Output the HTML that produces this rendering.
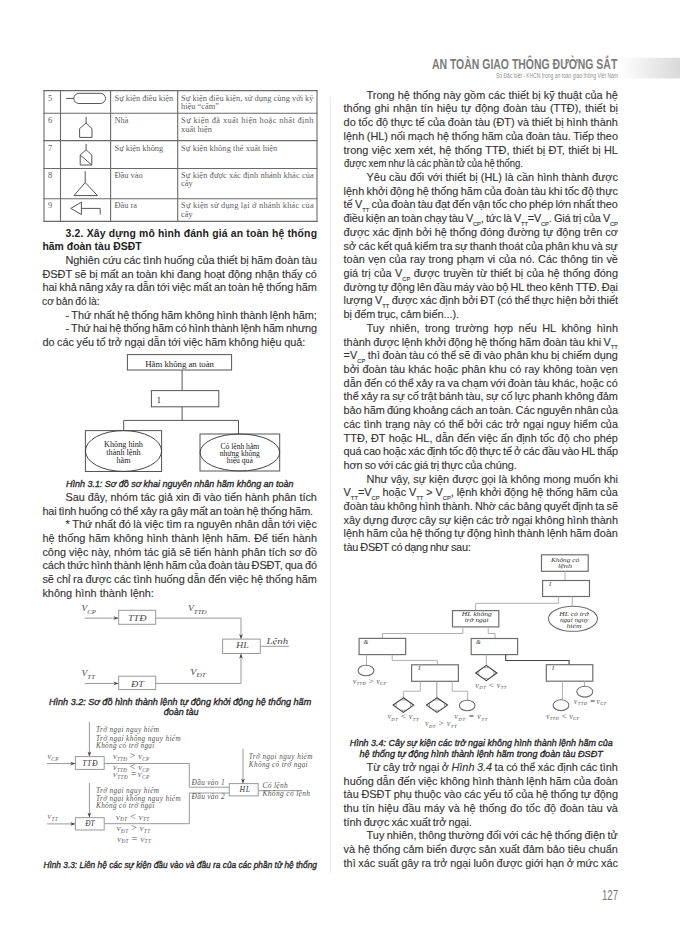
<!DOCTYPE html>
<html><head><meta charset="utf-8"><style>
html,body{margin:0;padding:0;background:#fff;}
body{width:680px;height:942px;position:relative;overflow:hidden;font-family:"Liberation Sans",sans-serif;}
.b{position:absolute;font-size:10.9px;line-height:10.9px;color:#333;white-space:nowrap;-webkit-text-stroke:0.12px #333;}
.j{display:flex;justify-content:space-between;}
svg.ov{position:absolute;left:0;top:0;}
.sb{font-size:5.8px;position:relative;top:3.5px;}
</style></head>
<body>
<svg class="ov" width="680" height="942" viewBox="0 0 680 942"><line x1="330.3" y1="97" x2="330.3" y2="873" stroke="#e6e6e6" stroke-width="1"/>
<line x1="44" y1="90.1" x2="44" y2="221.9" stroke="#6a6a6a" stroke-width="1.1"/>
<line x1="60.5" y1="90.1" x2="60.5" y2="221.9" stroke="#6a6a6a" stroke-width="1.1"/>
<line x1="110.6" y1="90.1" x2="110.6" y2="221.9" stroke="#6a6a6a" stroke-width="1.1"/>
<line x1="177.7" y1="90.1" x2="177.7" y2="221.9" stroke="#6a6a6a" stroke-width="1.1"/>
<line x1="317" y1="90.1" x2="317" y2="221.9" stroke="#6a6a6a" stroke-width="1.1"/>
<line x1="43.5" y1="90.6" x2="317.5" y2="90.6" stroke="#6a6a6a" stroke-width="1.1"/>
<line x1="43.5" y1="113.3" x2="317.5" y2="113.3" stroke="#6a6a6a" stroke-width="1.1"/>
<line x1="43.5" y1="140.6" x2="317.5" y2="140.6" stroke="#6a6a6a" stroke-width="1.1"/>
<line x1="43.5" y1="168.5" x2="317.5" y2="168.5" stroke="#6a6a6a" stroke-width="1.1"/>
<line x1="43.5" y1="198.8" x2="317.5" y2="198.8" stroke="#6a6a6a" stroke-width="1.1"/>
<line x1="43.5" y1="221.4" x2="317.5" y2="221.4" stroke="#6a6a6a" stroke-width="1.1"/>
<text x="48.1" y="100.5" font-family="Liberation Serif" font-size="8.4" font-style="normal" font-weight="normal" fill="#606060" text-anchor="start">5</text>
<text x="114.5" y="100.5" font-family="Liberation Serif" font-size="8.4" font-style="normal" font-weight="normal" fill="#606060" text-anchor="start">Sự kiện điều kiện</text>
<text x="181.1" y="100.5" font-family="Liberation Serif" font-size="8.4" font-style="normal" font-weight="normal" fill="#606060" text-anchor="start" textLength="132.40" lengthAdjust="spacing">Sự kiện điều kiện, sử dụng cùng với ký</text>
<text x="181.1" y="109.3" font-family="Liberation Serif" font-size="8.4" font-style="normal" font-weight="normal" fill="#606060" text-anchor="start">hiệu “cấm”</text>
<text x="48.1" y="122.8" font-family="Liberation Serif" font-size="8.4" font-style="normal" font-weight="normal" fill="#606060" text-anchor="start">6</text>
<text x="114.5" y="122.8" font-family="Liberation Serif" font-size="8.4" font-style="normal" font-weight="normal" fill="#606060" text-anchor="start">Nhà</text>
<text x="181.1" y="122.8" font-family="Liberation Serif" font-size="8.4" font-style="normal" font-weight="normal" fill="#606060" text-anchor="start" textLength="132.40" lengthAdjust="spacing">Sự kiện đã xuất hiện hoặc nhất định</text>
<text x="181.1" y="131.6" font-family="Liberation Serif" font-size="8.4" font-style="normal" font-weight="normal" fill="#606060" text-anchor="start">xuất hiện</text>
<text x="48.1" y="150.5" font-family="Liberation Serif" font-size="8.4" font-style="normal" font-weight="normal" fill="#606060" text-anchor="start">7</text>
<text x="114.5" y="150.5" font-family="Liberation Serif" font-size="8.4" font-style="normal" font-weight="normal" fill="#606060" text-anchor="start">Sự kiện không</text>
<text x="181.1" y="150.5" font-family="Liberation Serif" font-size="8.4" font-style="normal" font-weight="normal" fill="#606060" text-anchor="start" textLength="96.20" lengthAdjust="spacing">Sự kiện không thể xuất hiện</text>
<text x="48.1" y="177.6" font-family="Liberation Serif" font-size="8.4" font-style="normal" font-weight="normal" fill="#606060" text-anchor="start">8</text>
<text x="114.5" y="177.6" font-family="Liberation Serif" font-size="8.4" font-style="normal" font-weight="normal" fill="#606060" text-anchor="start">Đầu vào</text>
<text x="181.1" y="177.6" font-family="Liberation Serif" font-size="8.4" font-style="normal" font-weight="normal" fill="#606060" text-anchor="start" textLength="132.60" lengthAdjust="spacing">Sự kiện được xác định nhánh khác của</text>
<text x="181.1" y="186.4" font-family="Liberation Serif" font-size="8.4" font-style="normal" font-weight="normal" fill="#606060" text-anchor="start">cây</text>
<text x="48.1" y="208.3" font-family="Liberation Serif" font-size="8.4" font-style="normal" font-weight="normal" fill="#606060" text-anchor="start">9</text>
<text x="114.5" y="208.3" font-family="Liberation Serif" font-size="8.4" font-style="normal" font-weight="normal" fill="#606060" text-anchor="start">Đầu ra</text>
<text x="181.1" y="208.3" font-family="Liberation Serif" font-size="8.4" font-style="normal" font-weight="normal" fill="#606060" text-anchor="start" textLength="132.60" lengthAdjust="spacing">Sự kiện sử dụng lại ở nhánh khác của</text>
<text x="181.1" y="217.10000000000002" font-family="Liberation Serif" font-size="8.4" font-style="normal" font-weight="normal" fill="#606060" text-anchor="start">cây</text>
<line x1="66.1" y1="98.4" x2="73.8" y2="98.4" stroke="#555" stroke-width="1"/>
<rect x="73.8" y="93.3" width="31.7" height="10.2" rx="5.1" ry="5.1" stroke="#555" stroke-width="1" fill="none"/>
<line x1="86.1" y1="116.8" x2="86.1" y2="123" stroke="#555" stroke-width="1"/>
<path d="M79.6,137.4 L79.6,128.6 L86.1,123 L92,128.6 L92,137.4 Z" stroke="#555" stroke-width="1" fill="none" stroke-linejoin="miter"/>
<line x1="86.1" y1="143.9" x2="86.1" y2="149.8" stroke="#555" stroke-width="1"/>
<path d="M80.2,165 L80.2,155 L86.1,149.8 L91.8,155 L91.8,165 Z" stroke="#555" stroke-width="1" fill="none" stroke-linejoin="miter"/>
<line x1="80.2" y1="155" x2="91.8" y2="165" stroke="#555" stroke-width="1"/>
<line x1="85.2" y1="171.2" x2="85.2" y2="182.5" stroke="#555" stroke-width="1"/>
<path d="M85.2,182.5 L74,195.6 L97.5,195.6 Z" stroke="#555" stroke-width="1" fill="none" stroke-linejoin="miter"/>
<path d="M70.8,208.4 L81.4,202.1 L81.4,214.5 Z" stroke="#555" stroke-width="1" fill="none" stroke-linejoin="miter"/>
<path d="M81.4,208.4 L100.2,208.4 L100.2,214.5" stroke="#555" stroke-width="1" fill="none" stroke-linejoin="miter"/>
<rect x="127.4" y="354.6" width="104.20" height="15.40" stroke="#555" stroke-width="1" fill="none"/>
<text x="145.2" y="367.1" font-family="Liberation Serif" font-size="8.7" font-style="normal" font-weight="normal" fill="#222" text-anchor="start" textLength="68.80" lengthAdjust="spacingAndGlyphs">Hãm không an toàn</text>
<line x1="182.1" y1="370" x2="182.1" y2="390.6" stroke="#555" stroke-width="1"/>
<rect x="151.4" y="390.6" width="67.40" height="16.20" stroke="#555" stroke-width="1" fill="none"/>
<text x="156.8" y="402.9" font-family="Liberation Serif" font-size="8.4" font-style="normal" font-weight="normal" fill="#222" text-anchor="start">1</text>
<line x1="182.1" y1="406.8" x2="182.1" y2="420.4" stroke="#555" stroke-width="1"/>
<path d="M123.7,430.6 L123.7,420.4 L238.5,420.4 L238.5,434" stroke="#555" stroke-width="1" fill="none" stroke-linejoin="miter"/>
<rect x="85.4" y="430.6" width="76.20" height="40.90" stroke="#555" stroke-width="1" fill="none"/>
<ellipse cx="123.5" cy="451" rx="38.1" ry="20.4" stroke="#444" stroke-width="1" fill="none"/>
<text x="123.5" y="446.5" font-family="Liberation Serif" font-size="8.2" font-style="normal" font-weight="normal" fill="#222" text-anchor="middle">Không hình</text>
<text x="123.5" y="454.5" font-family="Liberation Serif" font-size="8.2" font-style="normal" font-weight="normal" fill="#222" text-anchor="middle">thành lệnh</text>
<text x="123.5" y="462.5" font-family="Liberation Serif" font-size="8.2" font-style="normal" font-weight="normal" fill="#222" text-anchor="middle">hãm</text>
<rect x="200" y="434" width="79.70" height="37.00" stroke="#555" stroke-width="1" fill="none"/>
<ellipse cx="239.85" cy="452.5" rx="39.8" ry="18.5" stroke="#444" stroke-width="1" fill="none"/>
<text x="239.8" y="449.0" font-family="Liberation Serif" font-size="7.6" font-style="normal" font-weight="normal" fill="#222" text-anchor="middle">Có lệnh hãm</text>
<text x="239.8" y="455.9" font-family="Liberation Serif" font-size="7.6" font-style="normal" font-weight="normal" fill="#222" text-anchor="middle">nhưng không</text>
<text x="239.8" y="462.8" font-family="Liberation Serif" font-size="7.6" font-style="normal" font-weight="normal" fill="#222" text-anchor="middle">hiệu quả</text>
<text x="81.6" y="610.9" font-family="Liberation Serif" font-size="7.2" font-style="italic" font-weight="normal" fill="#4a4a4a" text-anchor="start" textLength="14.40" lengthAdjust="spacingAndGlyphs">V<tspan font-size="5.20" dy="2.60">CP</tspan></text>
<line x1="84.7" y1="618.1" x2="118.7" y2="618.1" stroke="#999" stroke-width="1"/>
<path d="M118.50,618.10 L113.38,616.18 L114.98,618.10 L113.38,620.02 Z" fill="#444"/>
<rect x="118.7" y="610.3" width="37.00" height="14.00" stroke="#999" stroke-width="1" fill="none"/>
<text x="128" y="620.6" font-family="Liberation Serif" font-size="8.4" font-style="italic" font-weight="normal" fill="#4a4a4a" text-anchor="start" textLength="18.50" lengthAdjust="spacingAndGlyphs">TTĐ</text>
<path d="M155.7,618.1 L241,618.1 L241,639.1" stroke="#999" stroke-width="1" fill="none" stroke-linejoin="miter"/>
<path d="M241.00,639.00 L239.08,633.88 L241.00,635.48 L242.92,633.88 Z" fill="#444"/>
<text x="188" y="610.9" font-family="Liberation Serif" font-size="7.2" font-style="italic" font-weight="normal" fill="#4a4a4a" text-anchor="start" textLength="18.50" lengthAdjust="spacingAndGlyphs">V<tspan font-size="5.20" dy="2.60">TTĐ</tspan></text>
<rect x="222.6" y="639.1" width="37.70" height="14.40" stroke="#999" stroke-width="1" fill="none"/>
<text x="236" y="648.4" font-family="Liberation Serif" font-size="8.4" font-style="italic" font-weight="normal" fill="#4a4a4a" text-anchor="start" textLength="13.00" lengthAdjust="spacingAndGlyphs">HL</text>
<line x1="260.3" y1="646.3" x2="289" y2="646.3" stroke="#999" stroke-width="1"/>
<text x="266.5" y="644.3" font-family="Liberation Serif" font-size="8.4" font-style="italic" font-weight="normal" fill="#4a4a4a" text-anchor="start" textLength="21.60" lengthAdjust="spacingAndGlyphs">Lệnh</text>
<text x="81.6" y="676" font-family="Liberation Serif" font-size="7.2" font-style="italic" font-weight="normal" fill="#4a4a4a" text-anchor="start" textLength="13.40" lengthAdjust="spacingAndGlyphs">V<tspan font-size="5.20" dy="2.50">TT</tspan></text>
<line x1="84.7" y1="683.4" x2="118.7" y2="683.4" stroke="#999" stroke-width="1"/>
<path d="M118.50,683.40 L113.38,681.48 L114.98,683.40 L113.38,685.32 Z" fill="#444"/>
<rect x="118.7" y="676.2" width="37.00" height="13.40" stroke="#999" stroke-width="1" fill="none"/>
<text x="131" y="686.8" font-family="Liberation Serif" font-size="8.4" font-style="italic" font-weight="normal" fill="#4a4a4a" text-anchor="start" textLength="13.00" lengthAdjust="spacingAndGlyphs">ĐT</text>
<path d="M155.7,683.4 L241,683.4 L241,653.5" stroke="#999" stroke-width="1" fill="none" stroke-linejoin="miter"/>
<path d="M241.00,653.70 L239.08,658.82 L241.00,657.22 L242.92,658.82 Z" fill="#444"/>
<text x="190.3" y="674.6" font-family="Liberation Serif" font-size="7.2" font-style="italic" font-weight="normal" fill="#4a4a4a" text-anchor="start" textLength="15.40" lengthAdjust="spacingAndGlyphs">V<tspan font-size="5.20" dy="2.20">ĐT</tspan></text>
<line x1="89.4" y1="722" x2="89.4" y2="756.6" stroke="#999" stroke-width="1"/>
<path d="M89.40,756.50 L87.48,751.38 L89.40,752.98 L91.32,751.38 Z" fill="#444"/>
<text x="96" y="732" font-family="Liberation Serif" font-size="7.2" font-style="italic" font-weight="normal" fill="#555" text-anchor="start" textLength="63.00" lengthAdjust="spacing">Trở ngại nguy hiểm</text>
<text x="96" y="740.6" font-family="Liberation Serif" font-size="7.2" font-style="italic" font-weight="normal" fill="#555" text-anchor="start" textLength="84.60" lengthAdjust="spacing">Trở ngại không nguy hiểm</text>
<text x="96" y="747.8" font-family="Liberation Serif" font-size="7.2" font-style="italic" font-weight="normal" fill="#555" text-anchor="start" textLength="58.30" lengthAdjust="spacing">Không có trở ngại</text>
<text x="47.2" y="758.9" font-family="Liberation Serif" font-size="6.2" font-style="italic" font-weight="normal" fill="#555" text-anchor="start" textLength="11.10" lengthAdjust="spacing">V<tspan font-size="5.20" dy="1.90">CP</tspan></text>
<line x1="47" y1="763.6" x2="75.4" y2="763.6" stroke="#999" stroke-width="1"/>
<path d="M75.30,763.60 L70.18,761.68 L71.78,763.60 L70.18,765.52 Z" fill="#444"/>
<rect x="75.4" y="756.6" width="28.80" height="12.80" stroke="#999" stroke-width="1" fill="none"/>
<text x="82.2" y="765.7" font-family="Liberation Serif" font-size="7.8" font-style="italic" font-weight="normal" fill="#333" text-anchor="start" textLength="15.40" lengthAdjust="spacing">TTĐ</text>
<path d="M104.2,763.5 L189.3,763.5 L189.3,787.2 L229.3,787.2" stroke="#999" stroke-width="1" fill="none" stroke-linejoin="miter"/>
<text x="112.7" y="759" font-family="Liberation Serif" font-size="6.6" font-style="italic" font-weight="normal" fill="#555" text-anchor="start" textLength="36.40" lengthAdjust="spacing">V<tspan font-size="5.20" dy="1.60">TTĐ</tspan><tspan dy="-1.60"> </tspan><tspan font-size="10.00">&gt;</tspan><tspan font-size="6.6"></tspan> V<tspan font-size="5.20" dy="1.60">CP</tspan></text>
<text x="112.7" y="770" font-family="Liberation Serif" font-size="6.6" font-style="italic" font-weight="normal" fill="#555" text-anchor="start" textLength="36.40" lengthAdjust="spacing">V<tspan font-size="5.20" dy="1.60">TTĐ</tspan><tspan dy="-1.60"> </tspan><tspan font-size="10.00">&lt;</tspan><tspan font-size="6.6"></tspan> V<tspan font-size="5.20" dy="1.60">CP</tspan></text>
<text x="112.7" y="777.4" font-family="Liberation Serif" font-size="6.6" font-style="italic" font-weight="normal" fill="#555" text-anchor="start" textLength="36.40" lengthAdjust="spacing">V<tspan font-size="5.20" dy="1.60">TTĐ</tspan><tspan dy="-1.60"> </tspan><tspan font-size="10.00">=</tspan><tspan font-size="6.6"></tspan>V<tspan font-size="5.20" dy="1.60">CP</tspan></text>
<line x1="89.4" y1="782.8" x2="89.4" y2="817.7" stroke="#999" stroke-width="1"/>
<path d="M89.40,817.60 L87.48,812.48 L89.40,814.08 L91.32,812.48 Z" fill="#444"/>
<text x="96" y="792.8" font-family="Liberation Serif" font-size="7.2" font-style="italic" font-weight="normal" fill="#555" text-anchor="start" textLength="63.00" lengthAdjust="spacing">Trở ngại nguy hiểm</text>
<text x="96" y="801" font-family="Liberation Serif" font-size="7.2" font-style="italic" font-weight="normal" fill="#555" text-anchor="start" textLength="84.60" lengthAdjust="spacing">Trở ngại không nguy hiểm</text>
<text x="96" y="808.4" font-family="Liberation Serif" font-size="7.2" font-style="italic" font-weight="normal" fill="#555" text-anchor="start" textLength="58.30" lengthAdjust="spacing">Không có trở ngại</text>
<text x="47.2" y="819.2" font-family="Liberation Serif" font-size="6.2" font-style="italic" font-weight="normal" fill="#555" text-anchor="start" textLength="10.40" lengthAdjust="spacing">V<tspan font-size="5.20" dy="2.10">TT</tspan></text>
<line x1="47" y1="823.9" x2="75.4" y2="823.9" stroke="#999" stroke-width="1"/>
<path d="M75.30,823.90 L70.18,821.98 L71.78,823.90 L70.18,825.82 Z" fill="#444"/>
<rect x="75.4" y="817.7" width="28.80" height="12.30" stroke="#999" stroke-width="1" fill="none"/>
<text x="85.3" y="825.7" font-family="Liberation Serif" font-size="7.8" font-style="italic" font-weight="normal" fill="#333" text-anchor="start" textLength="9.30" lengthAdjust="spacingAndGlyphs">ĐT</text>
<path d="M104.2,823.7 L189.3,823.7 L189.3,793 L229.3,793" stroke="#999" stroke-width="1" fill="none" stroke-linejoin="miter"/>
<text x="115.8" y="819.5" font-family="Liberation Serif" font-size="6.6" font-style="italic" font-weight="normal" fill="#555" text-anchor="start" textLength="33.30" lengthAdjust="spacing">V<tspan font-size="5.20" dy="1.60">ĐT</tspan><tspan dy="-1.60"> </tspan><tspan font-size="10.00">&lt;</tspan><tspan font-size="6.6"></tspan> V<tspan font-size="5.20" dy="1.60">TT</tspan></text>
<text x="116.6" y="831" font-family="Liberation Serif" font-size="6.6" font-style="italic" font-weight="normal" fill="#555" text-anchor="start" textLength="33.60" lengthAdjust="spacing">V<tspan font-size="5.20" dy="1.60">ĐT</tspan><tspan dy="-1.60"> </tspan><tspan font-size="10.00">&gt;</tspan><tspan font-size="6.6"></tspan> V<tspan font-size="5.20" dy="1.60">TT</tspan></text>
<text x="117" y="841.8" font-family="Liberation Serif" font-size="6.6" font-style="italic" font-weight="normal" fill="#555" text-anchor="start" textLength="33.80" lengthAdjust="spacing">V<tspan font-size="5.20" dy="1.60">ĐT</tspan><tspan dy="-1.60"> </tspan><tspan font-size="10.00">=</tspan><tspan font-size="6.6"></tspan> V<tspan font-size="5.20" dy="1.60">TT</tspan></text>
<text x="191.6" y="785.3" font-family="Liberation Serif" font-size="7.4" font-style="italic" font-weight="normal" fill="#555" text-anchor="start" textLength="33.00" lengthAdjust="spacing">Đầu vào 1</text>
<text x="191.6" y="799.4" font-family="Liberation Serif" font-size="7.4" font-style="italic" font-weight="normal" fill="#555" text-anchor="start" textLength="33.00" lengthAdjust="spacing">Đầu vào 2</text>
<rect x="229.3" y="783.6" width="28.90" height="12.30" stroke="#999" stroke-width="1" fill="none"/>
<text x="239.4" y="791.9" font-family="Liberation Serif" font-size="7.8" font-style="italic" font-weight="normal" fill="#333" text-anchor="start" textLength="10.60" lengthAdjust="spacing">HL</text>
<line x1="243" y1="748.8" x2="243" y2="783.6" stroke="#999" stroke-width="1"/>
<path d="M243.00,783.50 L241.08,778.38 L243.00,779.98 L244.92,778.38 Z" fill="#444"/>
<text x="248.8" y="758.7" font-family="Liberation Serif" font-size="7.2" font-style="italic" font-weight="normal" fill="#555" text-anchor="start" textLength="63.60" lengthAdjust="spacing">Trở ngại nguy hiểm</text>
<text x="248.8" y="767.2" font-family="Liberation Serif" font-size="7.2" font-style="italic" font-weight="normal" fill="#555" text-anchor="start" textLength="58.80" lengthAdjust="spacing">Không có trở ngại</text>
<line x1="258.2" y1="790.7" x2="301.8" y2="790.7" stroke="#999" stroke-width="1"/>
<text x="262.5" y="788.4" font-family="Liberation Serif" font-size="7.4" font-style="italic" font-weight="normal" fill="#555" text-anchor="start" textLength="25.10" lengthAdjust="spacing">Có lệnh</text>
<text x="262.5" y="795.9" font-family="Liberation Serif" font-size="7.4" font-style="italic" font-weight="normal" fill="#555" text-anchor="start" textLength="47.50" lengthAdjust="spacing">Không có lệnh</text>
<rect x="541.5" y="554.8" width="46.70" height="16.50" stroke="#6e6e6e" stroke-width="1.2" fill="none"/>
<text x="550.9" y="562" font-family="Liberation Serif" font-size="6.4" font-style="italic" font-weight="normal" fill="#333" text-anchor="start" textLength="28.20" lengthAdjust="spacingAndGlyphs">Không có</text>
<text x="558" y="567.9" font-family="Liberation Serif" font-size="6.4" font-style="italic" font-weight="normal" fill="#333" text-anchor="start" textLength="14.00" lengthAdjust="spacingAndGlyphs">lệnh</text>
<line x1="565" y1="571.3" x2="565" y2="580.5" stroke="#b0b0b0" stroke-width="1"/>
<rect x="542.6" y="580.5" width="46.90" height="16.00" stroke="#6e6e6e" stroke-width="1.2" fill="none"/>
<text x="549" y="586" font-family="Liberation Serif" font-size="6.4" font-style="italic" font-weight="normal" fill="#333" text-anchor="start">I</text>
<path d="M558.6,596.5 L558.6,603.3 L475.6,603.3 L475.6,610.6" stroke="#b0b0b0" stroke-width="1" fill="none" stroke-linejoin="miter"/>
<line x1="572.2" y1="596.5" x2="572.2" y2="606.3" stroke="#b0b0b0" stroke-width="1"/>
<ellipse cx="573" cy="618.8" rx="24.5" ry="12.5" stroke="#6e6e6e" stroke-width="1.1" fill="none"/>
<text x="559.3" y="616" font-family="Liberation Serif" font-size="6.4" font-style="italic" font-weight="normal" fill="#333" text-anchor="start" textLength="29.40" lengthAdjust="spacingAndGlyphs">HL có trở</text>
<text x="559.9" y="622" font-family="Liberation Serif" font-size="6.4" font-style="italic" font-weight="normal" fill="#333" text-anchor="start" textLength="28.60" lengthAdjust="spacingAndGlyphs">ngại nguy</text>
<text x="566.5" y="628" font-family="Liberation Serif" font-size="6.4" font-style="italic" font-weight="normal" fill="#333" text-anchor="start" textLength="15.00" lengthAdjust="spacingAndGlyphs">hiểm</text>
<rect x="452.5" y="610.6" width="46.30" height="16.30" stroke="#6e6e6e" stroke-width="1.2" fill="none"/>
<text x="461.8" y="615.9" font-family="Liberation Serif" font-size="6.4" font-style="italic" font-weight="normal" fill="#333" text-anchor="start" textLength="30.00" lengthAdjust="spacingAndGlyphs">HL không</text>
<text x="464.7" y="622" font-family="Liberation Serif" font-size="6.4" font-style="italic" font-weight="normal" fill="#333" text-anchor="start" textLength="23.80" lengthAdjust="spacingAndGlyphs">trở ngại</text>
<path d="M462.8,626.9 L462.8,633.5 L382.4,633.5 L382.4,638.4" stroke="#b0b0b0" stroke-width="1" fill="none" stroke-linejoin="miter"/>
<path d="M488.2,626.9 L488.2,633.5 L495.1,633.5 L495.1,638.5" stroke="#b0b0b0" stroke-width="1" fill="none" stroke-linejoin="miter"/>
<rect x="359.1" y="638.4" width="46.60" height="16.20" stroke="#6e6e6e" stroke-width="1.2" fill="none"/>
<text x="363.5" y="643.8" font-family="Liberation Serif" font-size="6.2" font-style="italic" font-weight="normal" fill="#333" text-anchor="start">&amp;</text>
<line x1="366.5" y1="654.6" x2="366.5" y2="665.4" stroke="#b0b0b0" stroke-width="1"/>
<ellipse cx="366" cy="670.5" rx="7.9" ry="5.2" stroke="#6e6e6e" stroke-width="1.1" fill="none"/>
<text x="352.8" y="684" font-family="Liberation Serif" font-size="5.6" font-style="italic" font-weight="normal" fill="#444" text-anchor="start" textLength="33.50" lengthAdjust="spacing">V<tspan font-size="4.60" dy="1.40">TTĐ</tspan><tspan dy="-1.40"> </tspan><tspan font-size="9.00">&gt;</tspan><tspan font-size="5.6"></tspan> V<tspan font-size="4.60" dy="1.40">CP</tspan></text>
<path d="M392.2,654.6 L392.2,660.4 L437.4,660.4 L437.4,664.8" stroke="#b0b0b0" stroke-width="1" fill="none" stroke-linejoin="miter"/>
<rect x="471.2" y="638.5" width="46.40" height="16.10" stroke="#6e6e6e" stroke-width="1.2" fill="none"/>
<text x="476" y="643.8" font-family="Liberation Serif" font-size="6.2" font-style="italic" font-weight="normal" fill="#333" text-anchor="start">&amp;</text>
<line x1="486.3" y1="654.6" x2="486.3" y2="665.4" stroke="#b0b0b0" stroke-width="1"/>
<path d="M486.3,665.4 L496.90000000000003,673 L486.3,680.6 L475.7,673 Z" stroke="#3a3a3a" stroke-width="1.1" fill="none" stroke-linejoin="miter"/>
<line x1="478.7" y1="670.8490566037735" x2="478.7" y2="675.1509433962265" stroke="#777" stroke-width="0.7"/>
<line x1="493.90000000000003" y1="670.8490566037735" x2="493.90000000000003" y2="675.1509433962265" stroke="#777" stroke-width="0.7"/>
<line x1="483.2315789473684" y1="667.6" x2="489.3684210526316" y2="667.6" stroke="#777" stroke-width="0.7"/>
<line x1="483.2315789473684" y1="678.4" x2="489.3684210526316" y2="678.4" stroke="#777" stroke-width="0.7"/>
<text x="475.3" y="687.5" font-family="Liberation Serif" font-size="5.6" font-style="italic" font-weight="normal" fill="#444" text-anchor="start" textLength="31.10" lengthAdjust="spacing">V<tspan font-size="4.60" dy="1.40">ĐT</tspan><tspan dy="-1.40"> </tspan><tspan font-size="9.00">&lt;</tspan><tspan font-size="5.6"></tspan> V<tspan font-size="4.60" dy="1.40">TT</tspan></text>
<path d="M505.7,654.6 L505.7,660.5 L569.1,660.5 L569.1,664.7" stroke="#444" stroke-width="1.1" fill="none" stroke-linejoin="miter"/>
<rect x="411.6" y="664.8" width="46.80" height="16.50" stroke="#6e6e6e" stroke-width="1.2" fill="none"/>
<text x="418.2" y="670" font-family="Liberation Serif" font-size="6.4" font-style="italic" font-weight="normal" fill="#333" text-anchor="start">I</text>
<path d="M420.3,681.3 L420.3,691.2 L403.4,691.2 L403.4,697.8" stroke="#b0b0b0" stroke-width="1" fill="none" stroke-linejoin="miter"/>
<line x1="436.8" y1="681.3" x2="436.8" y2="697.8" stroke="#999" stroke-width="1"/>
<path d="M452.2,681.3 L452.2,691.2 L467.7,691.2 L467.7,700.4" stroke="#b0b0b0" stroke-width="1" fill="none" stroke-linejoin="miter"/>
<path d="M403.4,697.8000000000001 L413.7,705.1 L403.4,712.4 L393.09999999999997,705.1 Z" stroke="#3a3a3a" stroke-width="1.1" fill="none" stroke-linejoin="miter"/>
<line x1="396.09999999999997" y1="702.973786407767" x2="396.09999999999997" y2="707.2262135922331" stroke="#777" stroke-width="0.7"/>
<line x1="410.7" y1="702.973786407767" x2="410.7" y2="707.2262135922331" stroke="#777" stroke-width="0.7"/>
<line x1="400.29589041095886" y1="700.0000000000001" x2="406.5041095890411" y2="700.0000000000001" stroke="#777" stroke-width="0.7"/>
<line x1="400.29589041095886" y1="710.1999999999999" x2="406.5041095890411" y2="710.1999999999999" stroke="#777" stroke-width="0.7"/>
<path d="M437,697.8000000000001 L447.5,705.1 L437,712.4 L426.5,705.1 Z" stroke="#3a3a3a" stroke-width="1.1" fill="none" stroke-linejoin="miter"/>
<line x1="429.5" y1="703.0142857142857" x2="429.5" y2="707.1857142857143" stroke="#777" stroke-width="0.7"/>
<line x1="444.5" y1="703.0142857142857" x2="444.5" y2="707.1857142857143" stroke="#777" stroke-width="0.7"/>
<line x1="433.83561643835617" y1="700.0000000000001" x2="440.16438356164383" y2="700.0000000000001" stroke="#777" stroke-width="0.7"/>
<line x1="433.83561643835617" y1="710.1999999999999" x2="440.16438356164383" y2="710.1999999999999" stroke="#777" stroke-width="0.7"/>
<ellipse cx="467.2" cy="705.5" rx="7.8" ry="5.2" stroke="#6e6e6e" stroke-width="1.1" fill="none"/>
<text x="387.4" y="719.1" font-family="Liberation Serif" font-size="5.6" font-style="italic" font-weight="normal" fill="#444" text-anchor="start" textLength="31.10" lengthAdjust="spacing">V<tspan font-size="4.60" dy="1.40">ĐT</tspan><tspan dy="-1.40"> </tspan><tspan font-size="9.00">&lt;</tspan><tspan font-size="5.6"></tspan> V<tspan font-size="4.60" dy="1.40">TT</tspan></text>
<text x="424.9" y="726.2" font-family="Liberation Serif" font-size="5.6" font-style="italic" font-weight="normal" fill="#444" text-anchor="start" textLength="31.60" lengthAdjust="spacing">V<tspan font-size="4.60" dy="1.40">ĐT</tspan><tspan dy="-1.40"> </tspan><tspan font-size="9.00">&gt;</tspan><tspan font-size="5.6"></tspan> V<tspan font-size="4.60" dy="1.40">TT</tspan></text>
<text x="454.3" y="719.1" font-family="Liberation Serif" font-size="5.6" font-style="italic" font-weight="normal" fill="#444" text-anchor="start" textLength="33.00" lengthAdjust="spacing">V<tspan font-size="4.60" dy="1.40">ĐT</tspan><tspan dy="-1.40"> </tspan><tspan font-size="9.00">=</tspan><tspan font-size="5.6"></tspan> V<tspan font-size="4.60" dy="1.40">TT</tspan></text>
<rect x="546.3" y="664.7" width="46.50" height="16.50" stroke="#6e6e6e" stroke-width="1.2" fill="none"/>
<text x="552" y="670" font-family="Liberation Serif" font-size="6.4" font-style="italic" font-weight="normal" fill="#333" text-anchor="start">I</text>
<line x1="562.4" y1="681.2" x2="562.4" y2="699.7" stroke="#b0b0b0" stroke-width="1"/>
<ellipse cx="561" cy="705.2" rx="7.9" ry="5.4" stroke="#6e6e6e" stroke-width="1.1" fill="none"/>
<line x1="584.6" y1="681.2" x2="584.6" y2="686.3" stroke="#b0b0b0" stroke-width="1"/>
<ellipse cx="584.8" cy="691.7" rx="8" ry="5.4" stroke="#6e6e6e" stroke-width="1.1" fill="none"/>
<text x="573.7" y="703.8" font-family="Liberation Serif" font-size="5.6" font-style="italic" font-weight="normal" fill="#444" text-anchor="start" textLength="32.90" lengthAdjust="spacing">V<tspan font-size="4.60" dy="1.40">TTĐ</tspan><tspan dy="-1.40"> </tspan><tspan font-size="9.00">=</tspan><tspan font-size="5.6"></tspan>V<tspan font-size="4.60" dy="1.40">CP</tspan></text>
<text x="545.9" y="718.6" font-family="Liberation Serif" font-size="5.6" font-style="italic" font-weight="normal" fill="#444" text-anchor="start" textLength="33.30" lengthAdjust="spacing">V<tspan font-size="4.60" dy="1.40">TTĐ</tspan><tspan dy="-1.40"> </tspan><tspan font-size="9.00">&lt;</tspan><tspan font-size="5.6"></tspan> V<tspan font-size="4.60" dy="1.40">CP</tspan></text>
<defs><linearGradient id="g1" x1="0" x2="1" y1="0" y2="0"><stop offset="0" stop-color="#fff"/><stop offset="1" stop-color="#d9d9d9"/></linearGradient></defs>
<rect x="619" y="57.7" width="61" height="20.8" fill="url(#g1)"/>
<text x="431.9" y="68.5" font-family="Liberation Sans" font-size="15.4" font-style="normal" font-weight="bold" fill="#7c7c7c" text-anchor="start" textLength="185.40" lengthAdjust="spacingAndGlyphs">AN TOÀN GIAO THÔNG ĐƯỜNG SẮT</text>
<text x="496" y="78.2" font-family="Liberation Sans" font-size="7.2" font-style="normal" font-weight="normal" fill="#909090" text-anchor="start" textLength="122.00" lengthAdjust="spacingAndGlyphs">Số Đặc biệt - KHCN trong an toàn giao thông Việt Nam</text>
<text x="65.6" y="236.8" font-family="Liberation Sans" font-size="10.4" font-style="normal" font-weight="bold" fill="#222" text-anchor="start" textLength="251.40" lengthAdjust="spacing">3.2. Xây dựng mô hình đánh giá an toàn hệ thống</text>
<text x="42.4" y="250.3" font-family="Liberation Sans" font-size="10.4" font-style="normal" font-weight="bold" fill="#222" text-anchor="start" textLength="99.20" lengthAdjust="spacing">hãm đoàn tàu ĐSĐT</text>
<text x="66" y="487.2" font-family="Liberation Sans" font-size="9.2" font-style="italic" font-weight="normal" fill="#2a2a2a" text-anchor="start" stroke="#2a2a2a" stroke-width="0.35" textLength="227.50" lengthAdjust="spacingAndGlyphs">Hình 3.1: Sơ đồ sơ khai nguyên nhân hãm không an toàn</text>
<text x="49" y="704.9" font-family="Liberation Sans" font-size="9.2" font-style="italic" font-weight="normal" fill="#2a2a2a" text-anchor="start" stroke="#2a2a2a" stroke-width="0.35" textLength="262.20" lengthAdjust="spacingAndGlyphs">Hình 3.2: Sơ đồ hình thành lệnh tự động khởi động hệ thống hãm</text>
<text x="163.7" y="714.7" font-family="Liberation Sans" font-size="9.2" font-style="italic" font-weight="normal" fill="#2a2a2a" text-anchor="start" stroke="#2a2a2a" stroke-width="0.35" textLength="34.90" lengthAdjust="spacingAndGlyphs">đoàn tàu</text>
<text x="43.4" y="867.6" font-family="Liberation Sans" font-size="9.2" font-style="italic" font-weight="normal" fill="#2a2a2a" text-anchor="start" stroke="#2a2a2a" stroke-width="0.35" textLength="273.50" lengthAdjust="spacingAndGlyphs">Hình 3.3: Liên hệ các sự kiện đầu vào và đầu ra của các phần tử hệ thống</text>
<text x="349.7" y="746.2" font-family="Liberation Sans" font-size="9.2" font-style="italic" font-weight="normal" fill="#2a2a2a" text-anchor="start" stroke="#2a2a2a" stroke-width="0.35" textLength="263.10" lengthAdjust="spacingAndGlyphs">Hình 3.4: Cây sự kiện các trở ngại không hình thành lệnh hãm của</text>
<text x="359.5" y="756.6" font-family="Liberation Sans" font-size="9.2" font-style="italic" font-weight="normal" fill="#2a2a2a" text-anchor="start" stroke="#2a2a2a" stroke-width="0.35" textLength="243.30" lengthAdjust="spacingAndGlyphs">hệ thống tự động hình thành lệnh hãm trong đoàn tàu ĐSĐT</text>
<text x="601.9" y="899.6" font-family="Liberation Sans" font-size="14.2" font-style="normal" font-weight="normal" fill="#777" text-anchor="start" textLength="16.10" lengthAdjust="spacingAndGlyphs">127</text></svg>
<div class="b j" style="left:366.60px;top:89.77px;width:251.40px;"><span>Trong</span><span>hệ</span><span>thống</span><span>này</span><span>gồm</span><span>các</span><span>thiết</span><span>bị</span><span>kỹ</span><span>thuật</span><span>của</span><span>hệ</span></div>
<div class="b j" style="left:343.60px;top:103.48px;width:274.40px;"><span>thống</span><span>ghi</span><span>nhận</span><span>tín</span><span>hiệu</span><span>tự</span><span>động</span><span>đoàn</span><span>tàu</span><span>(TTĐ),</span><span>thiết</span><span>bị</span></div>
<div class="b j" style="left:343.60px;top:117.19px;width:274.40px;"><span>do</span><span>tốc</span><span>độ</span><span>thực</span><span>tế</span><span>của</span><span>đoàn</span><span>tàu</span><span>(ĐT)</span><span>và</span><span>thiết</span><span>bị</span><span>hình</span><span>thành</span></div>
<div class="b j" style="left:343.60px;top:130.90px;width:274.40px;"><span>lệnh</span><span>(HL)</span><span>nối</span><span>mạch</span><span>hệ</span><span>thống</span><span>hãm</span><span>của</span><span>đoàn</span><span>tàu.</span><span>Tiếp</span><span>theo</span></div>
<div class="b j" style="left:343.60px;top:144.61px;width:274.40px;"><span>trong</span><span>việc</span><span>xem</span><span>xét,</span><span>hệ</span><span>thống</span><span>TTĐ,</span><span>thiết</span><span>bị</span><span>ĐT,</span><span>thiết</span><span>bị</span><span>HL</span></div>
<div class="b j" style="left:343.60px;top:158.32px;width:205.60px;transform:scaleX(0.8706);transform-origin:0 0;"><span>được</span><span>xem</span><span>như</span><span>là</span><span>các</span><span>phần</span><span>tử</span><span>của</span><span>hệ</span><span>thống.</span></div>
<div class="b j" style="left:366.60px;top:172.03px;width:251.40px;"><span>Yêu</span><span>cầu</span><span>đối</span><span>với</span><span>thiết</span><span>bị</span><span>(HL)</span><span>là</span><span>cần</span><span>hình</span><span>thành</span><span>được</span></div>
<div class="b j" style="left:343.60px;top:185.74px;width:274.40px;"><span>lệnh</span><span>khởi</span><span>động</span><span>hệ</span><span>thống</span><span>hãm</span><span>của</span><span>đoàn</span><span>tàu</span><span>khi</span><span>tốc</span><span>độ</span><span>thực</span></div>
<div class="b j" style="left:343.60px;top:199.45px;width:274.40px;"><span>tế</span><span>V<span class="sb">TT</span></span><span>của</span><span>đoàn</span><span>tàu</span><span>đạt</span><span>đến</span><span>vận</span><span>tốc</span><span>cho</span><span>phép</span><span>lớn</span><span>nhất</span><span>theo</span></div>
<div class="b j" style="left:343.60px;top:213.16px;width:274.40px;letter-spacing:-0.159px;"><span>điều</span><span>kiện</span><span>an</span><span>toàn</span><span>chạy</span><span>tàu</span><span>V<span class="sb">CP</span>,</span><span>tức</span><span>là</span><span>V<span class="sb">TT</span>=V<span class="sb">CP</span>.</span><span>Giá</span><span>trị</span><span>của</span><span>V<span class="sb">CP</span></span></div>
<div class="b j" style="left:343.60px;top:226.87px;width:274.40px;"><span>được</span><span>xác</span><span>định</span><span>bởi</span><span>hệ</span><span>thống</span><span>đóng</span><span>đường</span><span>tự</span><span>động</span><span>trên</span><span>cơ</span></div>
<div class="b j" style="left:343.60px;top:240.58px;width:274.40px;"><span>sở</span><span>các</span><span>kết</span><span>quả</span><span>kiểm</span><span>tra</span><span>sự</span><span>thanh</span><span>thoát</span><span>của</span><span>phân</span><span>khu</span><span>và</span><span>sự</span></div>
<div class="b j" style="left:343.60px;top:254.29px;width:274.40px;"><span>toàn</span><span>vẹn</span><span>của</span><span>ray</span><span>trong</span><span>phạm</span><span>vi</span><span>của</span><span>nó.</span><span>Các</span><span>thông</span><span>tin</span><span>về</span></div>
<div class="b j" style="left:343.60px;top:268.00px;width:274.40px;"><span>giá</span><span>trị</span><span>của</span><span>V<span class="sb">CP</span></span><span>được</span><span>truyền</span><span>từ</span><span>thiết</span><span>bị</span><span>của</span><span>hệ</span><span>thống</span><span>đóng</span></div>
<div class="b j" style="left:343.60px;top:281.71px;width:274.40px;letter-spacing:-0.032px;"><span>đường</span><span>tự</span><span>động</span><span>lên</span><span>đầu</span><span>máy</span><span>vào</span><span>bộ</span><span>HL</span><span>theo</span><span>kênh</span><span>TTĐ.</span><span>Đại</span></div>
<div class="b j" style="left:343.60px;top:295.42px;width:274.40px;"><span>lượng</span><span>V<span class="sb">TT</span></span><span>được</span><span>xác</span><span>định</span><span>bởi</span><span>ĐT</span><span>(có</span><span>thể</span><span>thực</span><span>hiện</span><span>bởi</span><span>thiết</span></div>
<div class="b j" style="left:343.60px;top:309.13px;width:115.40px;letter-spacing:-0.052px;"><span>bị</span><span>đếm</span><span>trục,</span><span>cảm</span><span>biến...).</span></div>
<div class="b j" style="left:366.60px;top:322.84px;width:251.40px;"><span>Tuy</span><span>nhiên,</span><span>trong</span><span>trường</span><span>hợp</span><span>nếu</span><span>HL</span><span>không</span><span>hình</span></div>
<div class="b j" style="left:343.60px;top:336.55px;width:274.40px;"><span>thành</span><span>được</span><span>lệnh</span><span>khởi</span><span>động</span><span>hệ</span><span>thống</span><span>hãm</span><span>đoàn</span><span>tàu</span><span>khi</span><span>V<span class="sb">TT</span></span></div>
<div class="b j" style="left:343.60px;top:350.26px;width:274.40px;"><span>=V<span class="sb">CP</span></span><span>thì</span><span>đoàn</span><span>tàu</span><span>có</span><span>thể</span><span>sẽ</span><span>đi</span><span>vào</span><span>phân</span><span>khu</span><span>bị</span><span>chiếm</span><span>dụng</span></div>
<div class="b j" style="left:343.60px;top:363.97px;width:274.40px;"><span>bởi</span><span>đoàn</span><span>tàu</span><span>khác</span><span>hoặc</span><span>phân</span><span>khu</span><span>có</span><span>ray</span><span>không</span><span>toàn</span><span>vẹn</span></div>
<div class="b j" style="left:343.60px;top:377.68px;width:274.40px;"><span>dẫn</span><span>đến</span><span>có</span><span>thể</span><span>xảy</span><span>ra</span><span>va</span><span>chạm</span><span>với</span><span>đoàn</span><span>tàu</span><span>khác,</span><span>hoặc</span><span>có</span></div>
<div class="b j" style="left:343.60px;top:391.39px;width:274.40px;"><span>thể</span><span>xảy</span><span>ra</span><span>sự</span><span>cố</span><span>trật</span><span>bánh</span><span>tàu,</span><span>sự</span><span>cố</span><span>lực</span><span>phanh</span><span>không</span><span>đảm</span></div>
<div class="b j" style="left:343.60px;top:405.10px;width:274.40px;letter-spacing:-0.073px;"><span>bảo</span><span>hãm</span><span>đúng</span><span>khoảng</span><span>cách</span><span>an</span><span>toàn.</span><span>Các</span><span>nguyên</span><span>nhân</span><span>của</span></div>
<div class="b j" style="left:343.60px;top:418.81px;width:274.40px;"><span>các</span><span>tình</span><span>trạng</span><span>này</span><span>có</span><span>thể</span><span>bởi</span><span>các</span><span>trở</span><span>ngại</span><span>nguy</span><span>hiểm</span><span>của</span></div>
<div class="b j" style="left:343.60px;top:432.52px;width:274.40px;"><span>TTĐ,</span><span>ĐT</span><span>hoặc</span><span>HL,</span><span>dẫn</span><span>đến</span><span>việc</span><span>ấn</span><span>định</span><span>tốc</span><span>độ</span><span>cho</span><span>phép</span></div>
<div class="b j" style="left:343.60px;top:446.23px;width:274.40px;letter-spacing:-0.129px;"><span>quá</span><span>cao</span><span>hoặc</span><span>xác</span><span>định</span><span>tốc</span><span>độ</span><span>thực</span><span>tế</span><span>ở</span><span>các</span><span>đầu</span><span>vào</span><span>HL</span><span>thấp</span></div>
<div class="b j" style="left:343.60px;top:459.94px;width:173.10px;letter-spacing:-0.095px;"><span>hơn</span><span>so</span><span>với</span><span>các</span><span>giá</span><span>trị</span><span>thực</span><span>của</span><span>chúng.</span></div>
<div class="b j" style="left:366.60px;top:473.65px;width:251.40px;"><span>Như</span><span>vậy,</span><span>sự</span><span>kiện</span><span>được</span><span>gọi</span><span>là</span><span>không</span><span>mong</span><span>muốn</span><span>khi</span></div>
<div class="b j" style="left:343.60px;top:487.36px;width:274.40px;"><span>V<span class="sb">TT</span>=V<span class="sb">CP</span></span><span>hoặc</span><span>V<span class="sb">TT</span></span><span>&gt;</span><span>V<span class="sb">CP</span>,</span><span>lệnh</span><span>khởi</span><span>động</span><span>hệ</span><span>thống</span><span>hãm</span><span>của</span></div>
<div class="b j" style="left:343.60px;top:501.07px;width:274.40px;letter-spacing:-0.008px;"><span>đoàn</span><span>tàu</span><span>không</span><span>hình</span><span>thành.</span><span>Nhờ</span><span>các</span><span>bảng</span><span>quyết</span><span>định</span><span>ta</span><span>sẽ</span></div>
<div class="b j" style="left:343.60px;top:514.78px;width:274.40px;"><span>xây</span><span>dựng</span><span>được</span><span>cây</span><span>sự</span><span>kiện</span><span>các</span><span>trở</span><span>ngại</span><span>không</span><span>hình</span><span>thành</span></div>
<div class="b j" style="left:343.60px;top:528.49px;width:274.40px;"><span>lệnh</span><span>hãm</span><span>của</span><span>hệ</span><span>thống</span><span>tự</span><span>động</span><span>hình</span><span>thành</span><span>lệnh</span><span>hãm</span><span>đoàn</span></div>
<div class="b j" style="left:343.60px;top:542.20px;width:127.00px;letter-spacing:-0.225px;"><span>tàu</span><span>ĐSĐT</span><span>có</span><span>dạng</span><span>như</span><span>sau:</span></div>
<div class="b j" style="left:366.60px;top:761.97px;width:251.40px;"><span>Từ</span><span>cây</span><span>trở</span><span>ngại</span><span>ở</span><span><i>Hình</span><span>3.4</i></span><span>ta</span><span>có</span><span>thể</span><span>xác</span><span>định</span><span>các</span><span>tình</span></div>
<div class="b j" style="left:343.60px;top:775.65px;width:274.40px;"><span>huống</span><span>dẫn</span><span>đến</span><span>việc</span><span>không</span><span>hình</span><span>thành</span><span>lệnh</span><span>hãm</span><span>của</span><span>đoàn</span></div>
<div class="b j" style="left:343.60px;top:789.33px;width:274.40px;"><span>tàu</span><span>ĐSĐT</span><span>phụ</span><span>thuộc</span><span>vào</span><span>các</span><span>yếu</span><span>tố</span><span>của</span><span>hệ</span><span>thống</span><span>tự</span><span>động</span></div>
<div class="b j" style="left:343.60px;top:803.01px;width:274.40px;"><span>thu</span><span>tín</span><span>hiệu</span><span>đầu</span><span>máy</span><span>và</span><span>hệ</span><span>thống</span><span>đo</span><span>tốc</span><span>độ</span><span>đoàn</span><span>tàu</span><span>và</span></div>
<div class="b j" style="left:343.60px;top:816.69px;width:128.20px;letter-spacing:-0.080px;"><span>tính</span><span>được</span><span>xác</span><span>xuất</span><span>trở</span><span>ngại.</span></div>
<div class="b j" style="left:366.60px;top:830.37px;width:251.40px;"><span>Tuy</span><span>nhiên,</span><span>thông</span><span>thường</span><span>đối</span><span>với</span><span>các</span><span>hệ</span><span>thống</span><span>điện</span><span>tử</span></div>
<div class="b j" style="left:343.60px;top:844.05px;width:274.40px;"><span>và</span><span>hệ</span><span>thống</span><span>cảm</span><span>biến</span><span>được</span><span>sản</span><span>xuất</span><span>đảm</span><span>bảo</span><span>tiêu</span><span>chuẩn</span></div>
<div class="b j" style="left:343.60px;top:857.73px;width:274.40px;"><span>thì</span><span>xác</span><span>suất</span><span>gây</span><span>ra</span><span>trở</span><span>ngại</span><span>luôn</span><span>được</span><span>giới</span><span>hạn</span><span>ở</span><span>mức</span><span>xác</span></div>
<div class="b j" style="left:65.40px;top:254.87px;width:251.60px;"><span>Nghiên</span><span>cứu</span><span>các</span><span>tình</span><span>huống</span><span>của</span><span>thiết</span><span>bị</span><span>hãm</span><span>đoàn</span><span>tàu</span></div>
<div class="b j" style="left:42.40px;top:268.55px;width:274.60px;"><span>ĐSĐT</span><span>sẽ</span><span>bị</span><span>mất</span><span>an</span><span>toàn</span><span>khi</span><span>đang</span><span>hoạt</span><span>động</span><span>nhận</span><span>thấy</span><span>có</span></div>
<div class="b j" style="left:42.40px;top:282.23px;width:274.60px;"><span>hai</span><span>khả</span><span>năng</span><span>xảy</span><span>ra</span><span>dẫn</span><span>tới</span><span>việc</span><span>mất</span><span>an</span><span>toàn</span><span>hệ</span><span>thống</span><span>hãm</span></div>
<div class="b j" style="left:42.40px;top:295.91px;width:60.96px;transform:scaleX(0.9449);transform-origin:0 0;"><span>cơ</span><span>bản</span><span>đó</span><span>là:</span></div>
<div class="b j" style="left:65.40px;top:309.59px;width:251.60px;"><span>-</span><span>Thứ</span><span>nhất</span><span>hệ</span><span>thống</span><span>hãm</span><span>không</span><span>hình</span><span>thành</span><span>lệnh</span><span>hãm;</span></div>
<div class="b j" style="left:65.40px;top:323.27px;width:251.60px;letter-spacing:-0.113px;"><span>-</span><span>Thứ</span><span>hai</span><span>hệ</span><span>thống</span><span>hãm</span><span>có</span><span>hình</span><span>thành</span><span>lệnh</span><span>hãm</span><span>nhưng</span></div>
<div class="b j" style="left:42.40px;top:336.95px;width:263.10px;"><span>do</span><span>các</span><span>yếu</span><span>tố</span><span>trở</span><span>ngại</span><span>dẫn</span><span>tới</span><span>việc</span><span>hãm</span><span>không</span><span>hiệu</span><span>quả:</span></div>
<div class="b j" style="left:65.40px;top:492.07px;width:251.60px;"><span>Sau</span><span>đây,</span><span>nhóm</span><span>tác</span><span>giả</span><span>xin</span><span>đi</span><span>vào</span><span>tiến</span><span>hành</span><span>phân</span><span>tích</span></div>
<div class="b j" style="left:42.40px;top:505.75px;width:270.60px;letter-spacing:-0.151px;"><span>hai</span><span>tình</span><span>huống</span><span>có</span><span>thể</span><span>xảy</span><span>ra</span><span>gây</span><span>mất</span><span>an</span><span>toàn</span><span>hệ</span><span>thống</span><span>hãm.</span></div>
<div class="b j" style="left:65.40px;top:519.43px;width:251.60px;"><span>*</span><span>Thứ</span><span>nhất</span><span>đó</span><span>là</span><span>việc</span><span>tìm</span><span>ra</span><span>nguyên</span><span>nhân</span><span>dẫn</span><span>tới</span><span>việc</span></div>
<div class="b j" style="left:42.40px;top:533.11px;width:274.60px;"><span>hệ</span><span>thống</span><span>hãm</span><span>không</span><span>hình</span><span>thành</span><span>lệnh</span><span>hãm.</span><span>Để</span><span>tiến</span><span>hành</span></div>
<div class="b j" style="left:42.40px;top:546.79px;width:274.60px;"><span>công</span><span>việc</span><span>này,</span><span>nhóm</span><span>tác</span><span>giả</span><span>sẽ</span><span>tiến</span><span>hành</span><span>phân</span><span>tích</span><span>sơ</span><span>đồ</span></div>
<div class="b j" style="left:42.40px;top:560.47px;width:274.60px;letter-spacing:-0.075px;"><span>cách</span><span>thức</span><span>hình</span><span>thành</span><span>lệnh</span><span>hãm</span><span>của</span><span>đoàn</span><span>tàu</span><span>ĐSĐT,</span><span>qua</span><span>đó</span></div>
<div class="b j" style="left:42.40px;top:574.15px;width:274.60px;"><span>sẽ</span><span>chỉ</span><span>ra</span><span>được</span><span>các</span><span>tình</span><span>huống</span><span>dẫn</span><span>đến</span><span>việc</span><span>hệ</span><span>thống</span><span>hãm</span></div>
<div class="b j" style="left:42.40px;top:587.83px;width:111.50px;"><span>không</span><span>hình</span><span>thành</span><span>lệnh:</span></div>
</body></html>
